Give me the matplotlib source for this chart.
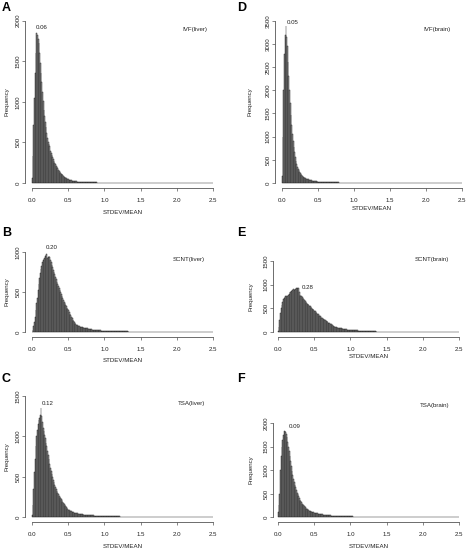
import numpy as np
import matplotlib
matplotlib.use("Agg")
import matplotlib.pyplot as plt

plt.rcParams['font.family'] = ['Liberation Sans', 'DejaVu Sans']

BIN_WIDTH = 0.01
X_TICKS = [0.0, 0.5, 1.0, 1.5, 2.0, 2.5]
X_TICK_LABELS = ["0.0", "0.5", "1.0", "1.5", "2.0", "2.5"]
X_LABEL = "STDEV/MEAN"
Y_LABEL = "Frequency"

letters = ["A", "B", "C", "D", "E", "F"]
conditions = ["IVF(liver)", "SCNT(liver)", "TSA(liver)", "IVF(brain)", "SCNT(brain)", "TSA(brain)"]
peak_labels = ["0.06", "0.20", "0.12", "0.05", "0.28", "0.09"]
y_tick_max = [2000, 1000, 1500, 3500, 1500, 2000]
y_tick_step = [500, 500, 500, 500, 500, 500]

counts_ivf_liver = [
    60, 330, 720, 1050, 1350, 1600, 1850, 1820, 1780, 1720,
    1600, 1480, 1350, 1240, 1120, 1010, 900, 820, 750, 690,
    620, 560, 510, 480, 450, 400, 370, 340, 320, 300,
    270, 250, 230, 210, 195, 180, 165, 150, 138, 125,
    115, 105, 96, 88, 80, 73, 66, 60, 55, 50,
    46, 42, 38, 35, 32, 30, 28, 26, 24, 22,
    20, 19, 18, 17, 16, 16, 15, 14, 14, 13,
    13, 12, 12, 11, 11, 10, 10, 10, 9, 9,
    9, 8, 8, 8, 8, 7, 7, 7, 7, 7,
    6, 6, 6, 6, 6, 6, 6, 5, 5, 5,
    5, 5, 5, 5, 5, 5, 4, 4, 4, 4,
    4, 4, 4, 4, 4, 4, 4, 4, 4, 4,
    4, 3, 4, 3, 3, 4, 3, 3, 3, 3,
    3, 3, 3, 3, 3, 3, 3, 3, 3, 3,
    3, 3, 2, 3, 3, 2, 3, 2, 3, 2,
    2, 3, 2, 2, 2, 3, 2, 2, 2, 2,
    2, 2, 2, 2, 2, 2, 2, 2, 2, 2,
    2, 2, 2, 1, 2, 2, 2, 1, 2, 2,
    2, 1, 2, 1, 1, 2, 1, 1, 1, 1,
    1, 1, 0, 1, 0, 1, 0, 0, 1, 0,
    0, 0, 0, 0, 0, 0, 0, 0, 0, 0,
    0, 0, 0, 0, 0, 0, 0, 0, 0, 0,
    0, 0, 0, 0, 0, 0, 0, 0, 0, 0,
    0, 0, 0, 0, 0, 0, 0, 0, 0, 0,
    0, 0, 0, 0, 0, 0, 0, 0, 0, 0,
]

counts_scnt_liver = [
    5, 25, 70, 130, 190, 270, 360, 430, 520, 600,
    680, 740, 790, 830, 870, 895, 910, 930, 945, 960,
    980, 930, 940, 950, 940, 900, 870, 840, 810, 780,
    750, 720, 690, 660, 630, 600, 575, 550, 525, 500,
    470, 445, 420, 400, 380, 360, 340, 320, 305, 290,
    270, 250, 230, 210, 190, 170, 150, 135, 120, 108,
    98, 92, 86, 80, 76, 72, 68, 65, 62, 60,
    58, 55, 52, 50, 48, 46, 44, 42, 40, 38,
    36, 34, 32, 30, 29, 28, 27, 26, 25, 24,
    23, 22, 21, 20, 19, 18, 18, 17, 16, 16,
    15, 15, 14, 14, 13, 13, 12, 12, 12, 11,
    11, 11, 10, 10, 10, 10, 9, 9, 9, 9,
    9, 9, 8, 8, 8, 8, 8, 7, 7, 7,
    7, 7, 7, 6, 6, 6, 6, 6, 6, 6,
    6, 5, 5, 5, 5, 5, 5, 5, 5, 5,
    5, 5, 5, 4, 4, 4, 4, 4, 4, 4,
    4, 4, 4, 4, 4, 4, 4, 3, 3, 3,
    3, 3, 3, 3, 3, 3, 3, 3, 3, 3,
    3, 3, 3, 3, 3, 3, 2, 3, 2, 3,
    2, 2, 3, 2, 2, 2, 2, 2, 2, 2,
    2, 2, 2, 2, 2, 2, 2, 2, 2, 1,
    2, 1, 2, 1, 1, 1, 1, 1, 1, 1,
    1, 1, 0, 1, 0, 0, 1, 0, 0, 0,
    0, 0, 0, 0, 0, 0, 0, 0, 0, 0,
    0, 0, 0, 0, 0, 0, 0, 0, 0, 0,
]

counts_tsa_liver = [
    20, 150, 350, 560, 720, 880, 1000, 1080, 1150, 1200,
    1230, 1270, 1350, 1250, 1180, 1100, 1060, 1020, 980, 920,
    880, 820, 770, 720, 660, 610, 570, 530, 490, 460,
    430, 400, 370, 345, 320, 300, 280, 265, 250, 235,
    220, 205, 190, 175, 160, 145, 132, 120, 110, 100,
    92, 85, 80, 75, 70, 66, 62, 58, 55, 52,
    49, 46, 44, 42, 40, 38, 36, 35, 34, 32,
    31, 30, 29, 28, 27, 26, 25, 24, 23, 22,
    21, 20, 20, 19, 19, 18, 18, 17, 17, 16,
    16, 15, 15, 14, 14, 14, 13, 13, 13, 12,
    12, 12, 11, 11, 11, 10, 10, 10, 9, 9,
    9, 9, 8, 8, 8, 8, 7, 7, 7, 7,
    7, 6, 6, 6, 6, 6, 6, 5, 5, 5,
    5, 5, 5, 5, 4, 4, 4, 4, 4, 4,
    4, 4, 4, 3, 3, 3, 3, 3, 3, 3,
    3, 3, 3, 3, 3, 3, 3, 2, 3, 2,
    2, 2, 2, 2, 2, 2, 2, 2, 2, 2,
    2, 2, 2, 2, 1, 2, 1, 2, 1, 1,
    1, 1, 1, 1, 1, 1, 1, 1, 1, 1,
    1, 1, 0, 1, 1, 0, 1, 0, 0, 1,
    0, 0, 0, 0, 0, 0, 0, 0, 0, 0,
    0, 0, 0, 0, 0, 0, 0, 0, 0, 0,
    0, 0, 0, 0, 0, 0, 0, 0, 0, 0,
    0, 0, 0, 0, 0, 0, 0, 0, 0, 0,
    0, 0, 0, 0, 0, 0, 0, 0, 0, 0,
]

counts_ivf_brain = [
    150, 1000, 2000, 2780, 3200, 3380, 3150, 2950, 2600, 2300,
    2000, 1720, 1460, 1250, 1060, 900, 770, 660, 560, 480,
    410, 355, 310, 270, 240, 210, 190, 170, 152, 138,
    125, 114, 104, 96, 88, 82, 76, 70, 65, 60,
    56, 52, 48, 45, 42, 40, 38, 36, 34, 32,
    30, 28, 27, 26, 25, 24, 23, 22, 21, 20,
    19, 18, 18, 17, 17, 16, 16, 15, 15, 14,
    14, 13, 13, 12, 12, 12, 11, 11, 11, 10,
    10, 10, 9, 9, 9, 9, 8, 8, 8, 8,
    8, 7, 7, 7, 7, 7, 7, 6, 6, 6,
    6, 6, 6, 5, 5, 5, 5, 5, 5, 5,
    5, 5, 4, 4, 4, 4, 4, 4, 4, 4,
    4, 4, 4, 4, 3, 3, 3, 3, 3, 3,
    3, 3, 3, 3, 3, 3, 3, 3, 3, 2,
    3, 2, 2, 2, 2, 2, 2, 2, 2, 2,
    2, 2, 2, 2, 2, 2, 2, 2, 2, 2,
    2, 1, 2, 1, 2, 1, 1, 1, 1, 1,
    1, 1, 1, 1, 1, 1, 1, 1, 1, 1,
    1, 0, 1, 0, 1, 0, 0, 1, 0, 0,
    0, 0, 0, 0, 0, 0, 0, 0, 0, 0,
    0, 0, 0, 0, 0, 0, 0, 0, 0, 0,
    0, 0, 0, 0, 0, 0, 0, 0, 0, 0,
    0, 0, 0, 0, 0, 0, 0, 0, 0, 0,
    0, 0, 0, 0, 0, 0, 0, 0, 0, 0,
    0, 0, 0, 0, 0, 0, 0, 0, 0, 0,
]

counts_scnt_brain = [
    20, 100, 250, 400, 500, 580, 640, 690, 720, 750,
    760, 760, 750, 770, 790, 810, 840, 850, 860, 870,
    880, 900, 890, 910, 900, 920, 930, 935, 940, 840,
    780, 770, 760, 740, 720, 700, 670, 650, 630, 615,
    600, 585, 570, 555, 540, 525, 510, 495, 480, 465,
    450, 435, 420, 405, 390, 375, 360, 345, 330, 315,
    300, 290, 280, 270, 260, 250, 240, 225, 210, 200,
    190, 180, 170, 160, 150, 140, 130, 122, 115, 108,
    102, 98, 94, 90, 87, 84, 81, 78, 75, 72,
    68, 64, 60, 56, 53, 50, 48, 46, 44, 42,
    41, 40, 39, 38, 37, 36, 35, 34, 33, 32,
    31, 30, 29, 28, 27, 26, 25, 24, 23, 22,
    21, 20, 19, 18, 17, 16, 16, 15, 15, 14,
    13, 13, 12, 12, 11, 11, 10, 10, 9, 9,
    9, 8, 8, 8, 7, 7, 7, 6, 6, 6,
    5, 5, 5, 5, 5, 4, 4, 4, 4, 4,
    4, 4, 3, 3, 3, 3, 3, 3, 3, 3,
    3, 3, 2, 2, 2, 2, 2, 2, 2, 2,
    2, 2, 2, 2, 2, 2, 1, 2, 1, 1,
    1, 1, 1, 1, 1, 1, 1, 1, 1, 1,
    1, 0, 1, 0, 1, 0, 0, 1, 0, 0,
    0, 0, 0, 0, 0, 0, 0, 0, 0, 0,
    0, 0, 0, 0, 0, 0, 0, 0, 0, 0,
    0, 0, 0, 0, 0, 0, 0, 0, 0, 0,
    0, 0, 0, 0, 0, 0, 0, 0, 0, 0,
]

counts_tsa_brain = [
    100, 250, 500, 1000, 1300, 1500, 1640, 1750, 1840, 1830,
    1800, 1760, 1700, 1600, 1500, 1400, 1290, 1190, 1080, 980,
    890, 810, 750, 690, 630, 570, 520, 480, 440, 400,
    370, 340, 310, 285, 265, 245, 225, 205, 190, 175,
    165, 155, 145, 135, 128, 120, 113, 107, 102, 97,
    92, 88, 84, 80, 76, 73, 70, 67, 64, 61,
    58, 55, 52, 50, 48, 46, 44, 42, 40, 38,
    36, 34, 32, 31, 30, 29, 28, 27, 26, 25,
    24, 23, 22, 21, 20, 20, 19, 18, 18, 17,
    16, 16, 15, 15, 14, 14, 13, 13, 12, 12,
    11, 11, 11, 10, 10, 10, 9, 9, 9, 8,
    8, 8, 8, 7, 7, 7, 7, 6, 6, 6,
    6, 6, 5, 5, 5, 5, 5, 5, 4, 4,
    4, 4, 4, 4, 4, 4, 3, 3, 3, 3,
    3, 3, 3, 3, 3, 3, 3, 3, 3, 2,
    3, 2, 2, 2, 2, 2, 2, 2, 2, 2,
    2, 2, 2, 2, 2, 2, 2, 2, 2, 2,
    2, 2, 1, 2, 1, 2, 1, 1, 1, 1,
    1, 1, 1, 1, 1, 1, 1, 1, 1, 1,
    1, 1, 1, 0, 1, 0, 1, 0, 1, 0,
    0, 0, 0, 0, 0, 0, 0, 0, 0, 0,
    0, 0, 0, 0, 0, 0, 0, 0, 0, 0,
    0, 0, 0, 0, 0, 0, 0, 0, 0, 0,
    0, 0, 0, 0, 0, 0, 0, 0, 0, 0,
    0, 0, 0, 0, 0, 0, 0, 0, 0, 0,
]

all_counts = [counts_ivf_liver, counts_scnt_liver, counts_tsa_liver,
              counts_ivf_brain, counts_scnt_brain, counts_tsa_brain]

# ---- layout (pixels in a 468x551 canvas) ----
W, H = 468, 551
DPI = 100
layout = [
    dict(x0=32, x1=213, y0=183, ytop=20.7, xaxis=188, yaxis=25,
         letter=(2, 8), cond=(195, 29.5), peak=(42, 27.5), xlab=213, ylab=6.5),
    dict(x0=32, x1=213, y0=332, ytop=252, xaxis=337, yaxis=25,
         letter=(2, 233), cond=(189, 260), peak=(51.5, 247.5), xlab=360, ylab=6.5),
    dict(x0=32, x1=213, y0=517, ytop=396, xaxis=522, yaxis=25,
         letter=(2, 379), cond=(192, 403.5), peak=(48, 403.3), xlab=547, ylab=6.5),
    dict(x0=282, x1=462, y0=183, ytop=20.7, xaxis=188, yaxis=275,
         letter=(237, 8), cond=(437, 30), peak=(292.5, 22.3), xlab=209, ylab=250),
    dict(x0=278, x1=459, y0=332, ytop=261, xaxis=337, yaxis=273,
         letter=(237, 233), cond=(431.5, 260), peak=(308, 287), xlab=356, ylab=250.5),
    dict(x0=278, x1=459, y0=517, ytop=423, xaxis=522, yaxis=273,
         letter=(237, 379), cond=(434.5, 405.7), peak=(295, 426.7), xlab=547, ylab=250.5),
]

fig = plt.figure(figsize=(W / DPI, H / DPI), dpi=DPI)
fig.patch.set_facecolor('white')

PX2PT = 72.0 / DPI
FS = 4.4
AXCOL = '#555555'
TXTCOL = '#222222'


def fxy(px, py):
    return px / W, 1 - py / H


for i in range(6):
    L = layout[i]
    counts = np.array(all_counts[i], dtype=float)
    ymax_t = y_tick_max[i]
    left = L['x0'] / W
    width = (L['x1'] - L['x0']) / W
    bottom = 1 - L['y0'] / H
    height = (L['y0'] - L['ytop']) / H
    ax = fig.add_axes([left, bottom, width, height])
    ax.set_xlim(0, 2.5)
    ax.set_ylim(0, ymax_t)
    ax.patch.set_alpha(0)

    edges = np.arange(len(counts)) * BIN_WIDTH
    ax.bar(edges, counts, width=BIN_WIDTH, align='edge', facecolor='#a8a8a8',
           edgecolor='#151515', linewidth=0.3, clip_on=False)

    for s in ['top', 'right']:
        ax.spines[s].set_visible(False)
    ax.spines['left'].set_position(('outward', (L['x0'] - L['yaxis']) * PX2PT))
    ax.spines['bottom'].set_position(('outward', (L['xaxis'] - L['y0']) * PX2PT))
    ax.spines['left'].set_bounds(0, ymax_t)
    ax.spines['bottom'].set_bounds(0, 2.5)
    for s in ['left', 'bottom']:
        ax.spines[s].set_color(AXCOL)
        ax.spines[s].set_linewidth(0.6)

    ax.set_xticks(X_TICKS)
    ax.set_xticklabels(X_TICK_LABELS)
    yt = list(range(0, ymax_t + 1, y_tick_step[i]))
    ax.set_yticks(yt)
    ax.set_yticklabels([str(v) for v in yt], rotation=90, va='center')
    ax.tick_params(axis='both', length=3 * PX2PT, width=0.5, color=AXCOL,
                   labelsize=FS, labelcolor=TXTCOL)
    ax.tick_params(axis='x', pad=5.0)
    ax.tick_params(axis='y', pad=1.2)

    fig.text(*fxy(*L['letter']), letters[i], fontsize=9, fontweight='bold',
             ha='left', va='center', color='black')
    fig.text(*fxy(*L['cond']), conditions[i], fontsize=FS, ha='center', va='center', color=TXTCOL)
    fig.text(*fxy(*L['peak']), peak_labels[i], fontsize=FS, ha='center', va='center', color=TXTCOL)
    fig.text(*fxy((L['x0'] + L['x1']) / 2, L['xlab']), X_LABEL, fontsize=FS,
             ha='center', va='center', color=TXTCOL)
    fig.text(*fxy(L['ylab'], (L['y0'] + L['ytop']) / 2), Y_LABEL, fontsize=FS,
             ha='center', va='center', rotation=90, color=TXTCOL)

fig.savefig('out.png', dpi=DPI, facecolor='white')
